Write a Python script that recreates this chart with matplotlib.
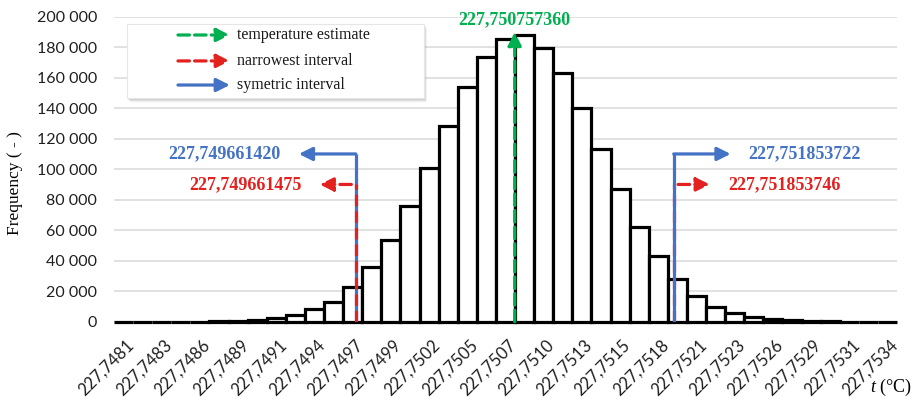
import numpy as np
import matplotlib.pyplot as plt
from matplotlib.patches import Rectangle
from matplotlib.transforms import ScaledTranslation

plt.rcParams['mathtext.fontset'] = 'custom'
plt.rcParams['mathtext.rm'] = 'Liberation Serif'
plt.rcParams['mathtext.it'] = 'Liberation Serif:italic'

# histogram of the simulated temperature (41 classes)
freq = [1, 3, 10, 30, 90, 250, 550, 1200, 2400, 4500, 8100, 13100, 22500,
        35700, 53600, 75900, 100600, 128300, 153900, 173400, 185600, 188300,
        179800, 163400, 140300, 113300, 86900, 62400, 43200, 28100, 16900,
        9900, 5600, 3100, 1700, 900, 450, 200, 90, 40, 15]
bin_left = 227.747994      # lower edge of the first class
bin_width = 0.0001317

tick_labels = ['227,7481', '227,7483', '227,7486', '227,7489', '227,7491',
               '227,7494', '227,7497', '227,7499', '227,7502', '227,7505',
               '227,7507', '227,7510', '227,7513', '227,7515', '227,7518',
               '227,7521', '227,7523', '227,7526', '227,7529', '227,7531',
               '227,7534']

t_estimate = 227.750757360
narrow_lo, narrow_hi = 227.749661475, 227.751853746
sym_lo, sym_hi = 227.749661420, 227.751853722

green = '#00b050'
red = '#e3211f'
blue = '#4472c4'
serif = 'Liberation Serif'
sans = 'Lato'

def fmt(v):
    return ('%.9f' % v).replace('.', ',')

fig = plt.figure(figsize=(9.18, 4.01), dpi=100)
ax = fig.add_axes([114/918, 79.3/401, 783/918, 305/401])

edges = bin_left + bin_width*np.arange(len(freq))
ax.bar(edges, freq, width=bin_width, align='edge', facecolor='white',
       edgecolor='black', linewidth=2.3, zorder=2, clip_on=False)

ax.set_xlim(bin_left, bin_left + bin_width*len(freq))
ax.set_ylim(0, 200000)
ax.set_yticks(np.arange(0, 200001, 20000))
ax.set_yticklabels(['{:,}'.format(v).replace(',', ' ') for v in range(0, 200001, 20000)])
ax.yaxis.grid(True, color='#d9d9d9', lw=1.1)
ax.set_axisbelow(True)
for s in ax.spines.values():
    s.set_visible(False)

centers = edges + bin_width/2
ax.set_xticks(centers[::2])
ax.set_xticklabels(tick_labels, rotation=45, ha='right', va='top',
                   rotation_mode='anchor')
ax.tick_params(length=0, labelcolor='#1f1f1f')
ax.tick_params(axis='y', pad=12, labelsize=11.5)
ax.tick_params(axis='x', pad=11, labelsize=12)
for lab in ax.get_xticklabels():
    lab.set_family(sans)
    lab.set_transform(lab.get_transform() + ScaledTranslation(2/100, 0, fig.dpi_scale_trans))
for lab in ax.get_yticklabels():
    lab.set_family(sans)

ax.set_ylabel('Frequency ( - )', family=serif, fontsize=12.5)
ax.yaxis.set_label_coords(-0.116, 0.455)
fig.text(891/918, 1 - 387/401, r'$t$ (°C)', family=serif, fontsize=13,
         ha='center', va='center')

dash = (0, (3.6, 1.6))
head = 20

# symmetric interval (blue, solid) and narrowest interval (red, dashed)
sym_h, narrow_h = 110000, 90000
ax.plot([sym_lo, sym_lo], [0, sym_h], color=blue, lw=2.3, zorder=4,
        solid_capstyle='butt')
ax.plot([narrow_lo, narrow_lo], [0, narrow_h], color=red, lw=2.3, ls=dash,
        zorder=4.5)
ax.plot([narrow_hi, narrow_hi], [0, narrow_h], color=red, lw=2.3, ls=dash,
        zorder=4)
ax.plot([sym_hi, sym_hi], [0, sym_h], color=blue, lw=2.3, zorder=4.5,
        solid_capstyle='butt')

for v, h, side, length, color, ls in [
        (sym_lo, sym_h, -1, 41, blue, '-'),
        (sym_hi, sym_h, 1, 41, blue, '-'),
        (narrow_lo, narrow_h, -1, 26, red, dash),
        (narrow_hi, narrow_h, 1, 26, red, dash)]:
    ax.annotate('', xy=(v, h), xytext=(side*length, 0), textcoords='offset points',
                arrowprops=dict(arrowstyle='<|-', color=color, lw=2.3, ls=ls,
                                mutation_scale=head, shrinkA=0, shrinkB=0),
                zorder=5)
    ax.annotate(fmt(v), xy=(v, h), xytext=(side*(length + 13), 0),
                textcoords='offset points', ha='left' if side > 0 else 'right',
                va='center', color=color, family=serif, fontsize=13,
                fontweight='bold')

# temperature estimate (green)
est_h = 190000
ax.annotate('', xy=(t_estimate, est_h), xytext=(t_estimate, 0),
            arrowprops=dict(arrowstyle='-|>', color=green, lw=2.3, ls=dash,
                            mutation_scale=head, shrinkA=0, shrinkB=0),
            zorder=5)
ax.annotate(fmt(t_estimate), xy=(t_estimate, est_h), xytext=(0, 3),
            textcoords='offset points', ha='center', va='bottom', color=green,
            family=serif, fontsize=13, fontweight='bold')

# legend box with soft shadow
bx, by, bw, bh = 0.0166, 0.733, 0.379, 0.243
px, py = 1/783, 1/305
for k, a in [(6, 0.04), (5, 0.06), (4, 0.08), (3, 0.1), (2, 0.12)]:
    ax.add_patch(Rectangle((bx + k*px*0.6, by - k*py*0.8), bw, bh,
                           transform=ax.transAxes, facecolor='#7f7f7f',
                           edgecolor='none', alpha=a, zorder=6))
ax.add_patch(Rectangle((bx, by), bw, bh, transform=ax.transAxes,
                       facecolor='white', edgecolor='#e6e6e6', lw=0.8, zorder=6.5))
legend_items = [('temperature estimate', green, dash),
                ('narrowest interval', red, dash),
                ('symetric interval', blue, '-')]
for (text, color, ls), yy in zip(legend_items, [0.940, 0.855, 0.776]):
    ax.annotate('', xy=(0.148, yy), xytext=(0.0817, yy), xycoords='axes fraction',
                textcoords='axes fraction',
                arrowprops=dict(arrowstyle='-|>', color=color, lw=2.3, ls=ls,
                                mutation_scale=head, shrinkA=0, shrinkB=0),
                zorder=7)
    ax.text(0.157, yy, text, transform=ax.transAxes, family=serif, fontsize=11.5,
            va='center', ha='left', color='#1a1a1a', zorder=7)

fig.savefig('out.png', dpi=100)
